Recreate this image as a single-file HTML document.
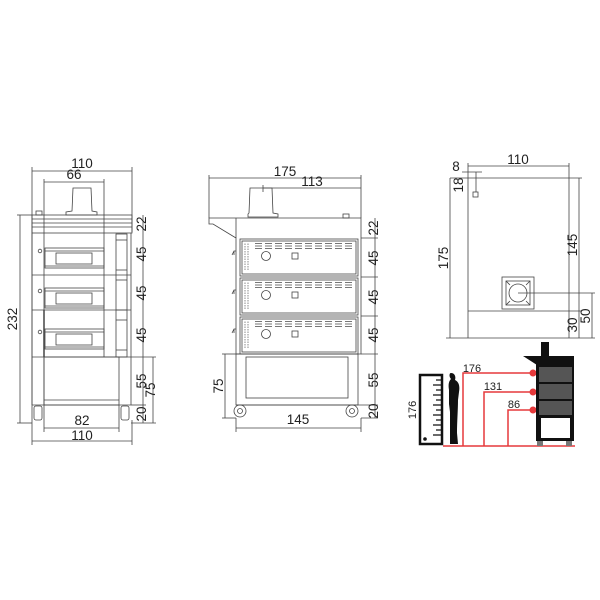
<!DOCTYPE html>
<html><head><meta charset="utf-8"><style>
html,body{margin:0;padding:0;background:#fff}
svg{display:block}
text{font-family:"Liberation Sans",sans-serif;font-size:13.5px;fill:#222}
</style></head><body>
<svg width="600" height="600" viewBox="0 0 600 600" xmlns="http://www.w3.org/2000/svg">
<g stroke="#444" stroke-width="0.8" fill="none">
<!-- FRONT VIEW -->
<line x1="32" y1="171" x2="132" y2="171"/>
<line x1="32" y1="167" x2="32" y2="445"/><line x1="132" y1="167" x2="132" y2="232"/>
<line x1="44" y1="182" x2="104" y2="182"/>
<line x1="44" y1="179" x2="44" y2="432"/><line x1="104" y1="179" x2="104" y2="357"/>
<path d="M73 188 L91 188 L92 211 L97 212 L97 215 L66 215 L66 212 L72 211 Z"/>
<rect x="36" y="211" width="6" height="4"/>
<rect x="32" y="215" width="100" height="18"/>
<line x1="32" y1="219" x2="132" y2="219"/><line x1="32" y1="223" x2="132" y2="223"/><line x1="32" y1="227" x2="132" y2="227"/>
<line x1="32" y1="233" x2="32" y2="405"/><line x1="131" y1="233" x2="131" y2="405"/>
<rect x="116" y="234" width="11" height="123"/>
<line x1="116" y1="240" x2="127" y2="240"/><line x1="116" y1="270" x2="127" y2="270"/><line x1="116" y1="280" x2="127" y2="280"/><line x1="116" y1="310" x2="127" y2="310"/><line x1="116" y1="320" x2="127" y2="320"/><line x1="116" y1="350" x2="127" y2="350"/>
<line x1="32" y1="275" x2="131" y2="275"/><line x1="32" y1="310" x2="131" y2="310"/><line x1="32" y1="357" x2="131" y2="357"/>
<line x1="44" y1="310" x2="44" y2="357" stroke-width="1.5"/>
<g id="door">
<rect x="45" y="248" width="59" height="20"/>
<line x1="45" y1="251" x2="104" y2="251"/>
<rect x="56" y="253" width="36" height="11"/>
<line x1="45" y1="266" x2="104" y2="266"/>
<circle cx="40" cy="251" r="1.8"/>
</g>
<use href="#door" y="40"/><use href="#door" y="81"/>
<rect x="44" y="357" width="75" height="48"/>
<line x1="44" y1="400" x2="119" y2="400"/>
<line x1="32" y1="405" x2="131" y2="405"/>
<rect x="34" y="406" width="8" height="14" rx="2"/><rect x="121" y="406" width="8" height="14" rx="2"/>
<line x1="20" y1="215" x2="20" y2="423"/><line x1="17" y1="215" x2="32" y2="215"/><line x1="17" y1="423" x2="32" y2="423"/>
<line x1="143" y1="215" x2="143" y2="423"/><line x1="153" y1="357" x2="153" y2="423"/>
<line x1="131" y1="357" x2="156" y2="357"/><line x1="131" y1="423" x2="156" y2="423"/><line x1="131" y1="405" x2="146" y2="405"/>
<line x1="44" y1="428" x2="119" y2="428"/><line x1="119" y1="405" x2="119" y2="432"/>
<line x1="32" y1="441" x2="132" y2="441"/><line x1="132" y1="420" x2="132" y2="445"/>

<!-- SIDE VIEW -->
<line x1="209" y1="178" x2="361" y2="178"/><line x1="263" y1="188" x2="361" y2="188"/>
<line x1="209" y1="175" x2="209" y2="218"/><line x1="361" y1="175" x2="361" y2="218"/><line x1="263" y1="185" x2="263" y2="192"/>
<path d="M250 188 L272 188 L273 213 L278 214 L278 217 L248 217 L248 214 L249 213 Z"/>
<rect x="343" y="214" width="6" height="4"/>
<path d="M209 218 L361 218 L361 354 L236 354 L236 238 L213 224 L209 224 Z"/>
<line x1="236" y1="218" x2="236" y2="238"/>
<g id="sov">
<rect x="240" y="239" width="118" height="37"/>
<rect x="242" y="241" width="114" height="33"/>
<circle cx="266" cy="256" r="4.5"/>
<rect x="292" y="253" width="6" height="6"/>
<path d="M232 255 l2 -4 l2 0 M234 255 v-4" />
<path d="M255 243.5 H354 M255 246 H354 M255 248.5 H354" stroke="#777" stroke-dasharray="7 3" stroke-width="1"/>
<path d="M245 243.5 V271 M248 243.5 V271" stroke="#888" stroke-dasharray="1.5 1" stroke-width="1"/>
</g>
<use href="#sov" y="39"/><use href="#sov" y="78"/>
<rect x="236" y="354" width="122" height="51"/>
<rect x="246" y="357" width="102" height="41"/>
<line x1="236" y1="405" x2="361" y2="405"/>
<circle cx="240" cy="411" r="6"/><circle cx="240" cy="411" r="2.5"/>
<circle cx="352" cy="411" r="6"/><circle cx="352" cy="411" r="2.5"/>
<line x1="225" y1="354" x2="225" y2="418"/><line x1="222" y1="354" x2="236" y2="354"/><line x1="222" y1="418" x2="236" y2="418"/>
<line x1="375" y1="218" x2="375" y2="418"/><line x1="361" y1="354" x2="378" y2="354"/><line x1="361" y1="405" x2="378" y2="405"/><line x1="361" y1="418" x2="378" y2="418"/>
<line x1="361" y1="238" x2="378" y2="238"/><line x1="361" y1="277" x2="378" y2="277"/><line x1="361" y1="316" x2="378" y2="316"/>
<line x1="236" y1="428" x2="361" y2="428"/><line x1="236" y1="418" x2="236" y2="432"/><line x1="361" y1="418" x2="361" y2="432"/>

<!-- TOP VIEW -->
<line x1="468" y1="166" x2="569" y2="166"/><line x1="468" y1="163" x2="468" y2="338"/><line x1="569" y1="163" x2="569" y2="338"/>
<line x1="462" y1="172" x2="482" y2="172"/><line x1="476" y1="172" x2="476" y2="192"/>
<line x1="450" y1="178" x2="582" y2="178"/>
<line x1="450" y1="178" x2="450" y2="338"/>
<line x1="446" y1="338" x2="595" y2="338"/>
<line x1="468" y1="311" x2="582" y2="311"/>
<rect x="473" y="192" width="5" height="5"/>
<rect x="502" y="277" width="32" height="32"/><rect x="506" y="281" width="24" height="24"/>
<circle cx="518" cy="293" r="9"/>
<path d="M506 281 l4 4 M530 281 l-4 4 M506 305 l4 -4 M530 305 l-4 -4"/>
<line x1="518" y1="293" x2="595" y2="293"/>
<line x1="579" y1="178" x2="579" y2="338"/><line x1="592" y1="293" x2="592" y2="338"/>
</g>
<g>
<text x="82" y="168" text-anchor="middle">110</text>
<text x="74" y="179" text-anchor="middle">66</text>
<text x="82" y="425" text-anchor="middle">82</text>
<text x="82" y="440" text-anchor="middle">110</text>
<text transform="translate(17,319) rotate(-90)" text-anchor="middle">232</text>
<text transform="translate(146,224) rotate(-90)" text-anchor="middle">22</text>
<text transform="translate(146,254) rotate(-90)" text-anchor="middle">45</text>
<text transform="translate(146,293) rotate(-90)" text-anchor="middle">45</text>
<text transform="translate(146,335) rotate(-90)" text-anchor="middle">45</text>
<text transform="translate(146,381) rotate(-90)" text-anchor="middle">55</text>
<text transform="translate(155,390) rotate(-90)" text-anchor="middle">75</text>
<text transform="translate(146,414) rotate(-90)" text-anchor="middle">20</text>
<text x="285" y="176" text-anchor="middle">175</text>
<text x="312" y="186" text-anchor="middle">113</text>
<text x="298" y="424" text-anchor="middle">145</text>
<text transform="translate(223,386) rotate(-90)" text-anchor="middle">75</text>
<text transform="translate(378,228) rotate(-90)" text-anchor="middle">22</text>
<text transform="translate(378,258) rotate(-90)" text-anchor="middle">45</text>
<text transform="translate(378,297) rotate(-90)" text-anchor="middle">45</text>
<text transform="translate(378,335) rotate(-90)" text-anchor="middle">45</text>
<text transform="translate(378,380) rotate(-90)" text-anchor="middle">55</text>
<text transform="translate(378,411) rotate(-90)" text-anchor="middle">20</text>
<text x="518" y="164" text-anchor="middle">110</text>
<text x="456" y="171" text-anchor="middle">8</text>
<text transform="translate(463,185) rotate(-90)" text-anchor="middle">18</text>
<text transform="translate(448,258) rotate(-90)" text-anchor="middle">175</text>
<text transform="translate(577,245) rotate(-90)" text-anchor="middle">145</text>
<text transform="translate(577,325) rotate(-90)" text-anchor="middle">30</text>
<text transform="translate(590,316) rotate(-90)" text-anchor="middle">50</text>
</g>
<!-- silhouettes -->
<g>
<rect x="420" y="375" width="22" height="69" fill="#fff" stroke="#111" stroke-width="2.5"/>
<path d="M441 380 h-5 M441 385 h-8 M441 390 h-5 M441 395 h-8 M441 400 h-5 M441 405 h-8 M441 410 h-5 M441 415 h-8 M441 420 h-5 M441 425 h-8 M441 430 h-5 M441 435 h-8" stroke="#111" stroke-width="1.2"/>
<circle cx="425" cy="439" r="1.8" fill="#111"/>
<path d="M451 373 c4 0 5 4 4 7 c4 2 5 6 4 12 l-1 8 c0 10 -1 22 -1 33 l1 11 h-8 l0 -12 l0 -20 l-1 -8 l0 -14 c-1 -6 0 -9 2 -11 c-2 -2 -2 -6 0 -6 z" fill="#111"/>
<path d="M443 446 H575 M463 446 V373 H533 M484 446 V392 H533 M508 446 V410 H533" stroke="#e5393b" stroke-width="1.5" fill="none"/>
<circle cx="533" cy="373" r="3.5" fill="#e5393b"/><circle cx="533" cy="392" r="3.5" fill="#e5393b"/><circle cx="533" cy="410" r="3.5" fill="#e5393b"/>
<rect x="541" y="342" width="8" height="14" fill="#111"/>
<path d="M523 356 H574 V365 H537 Z" fill="#111"/>
<rect x="536" y="364" width="38" height="77" fill="#111"/>
<rect x="539" y="367" width="33" height="15" fill="#555"/>
<rect x="539" y="384" width="33" height="15" fill="#555"/>
<rect x="539" y="401" width="33" height="14" fill="#555"/>
<rect x="541" y="418" width="29" height="20" fill="#fff"/>
<rect x="537" y="441" width="6" height="5" fill="#777"/><rect x="566" y="441" width="6" height="5" fill="#777"/>
<text x="472" y="372" text-anchor="middle" style="font-size:11px">176</text>
<text x="493" y="390" text-anchor="middle" style="font-size:11px">131</text>
<text x="514" y="408" text-anchor="middle" style="font-size:11px">86</text>
<text transform="translate(416,410) rotate(-90)" text-anchor="middle" style="font-size:11px">176</text>
</g>
</svg>
</body></html>
